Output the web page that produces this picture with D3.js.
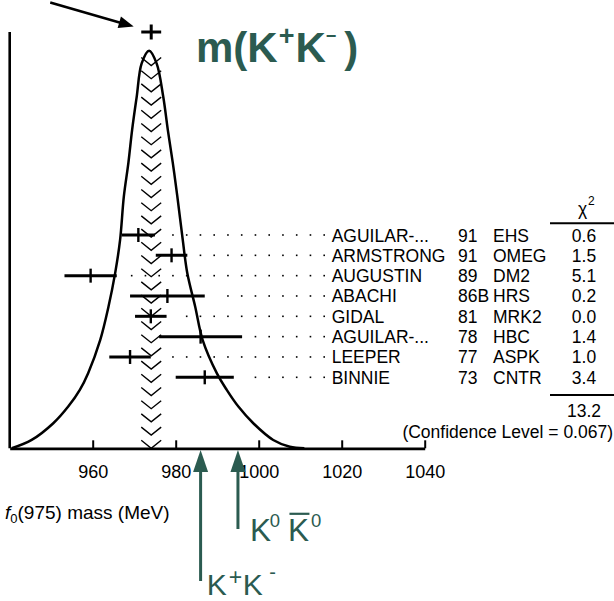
<!DOCTYPE html>
<html>
<head>
<meta charset="utf-8">
<script src="https://cdn.jsdelivr.net/npm/d3@7"></script>
<style>
  html, body { margin: 0; padding: 0; background: #fff; }
  svg { display: block; }
</style>
</head>
<body>
<svg id="chart" width="614" height="601"></svg>
<script>
// f0(975) mass measurements (MeV)
const names = ["AGUILAR-...", "ARMSTRONG", "AUGUSTIN", "ABACHI", "GIDAL", "AGUILAR-...", "LEEPER", "BINNIE"];
const years = ["91", "91", "89", "86B", "81", "78", "77", "73"];
const experiments = ["EHS", "OMEG", "DM2", "HRS", "MRK2", "HBC", "ASPK", "CNTR"];
const massValues = [971, 979, 959.5, 978, 974, 986, 969, 987];
const massErrors = [4, 3.8, 6.3, 9, 3.8, 10, 5, 7];
const chi2Values = ["0.6", "1.5", "5.1", "0.2", "0.0", "1.4", "1.0", "3.4"];
const chi2Total = "13.2";
const confidenceLevel = "0.067";

// weighted average and its error
const averageMass = 974.1;
const averageError = 2.4;

// ideogram curve (relative density vs mass)
const ideogramMass = [940.5, 945.3, 950.5, 954.1, 956.9, 958.9, 961.8, 963.8, 965.4, 966.6, 967.5, 968.6,
  969.5, 970.6, 971.8, 973.6, 975.4, 977.0, 978.1, 979.3, 980.4, 981.7, 982.8, 984.7, 986.5, 989.9,
  992.3, 995.1, 998.7, 1003.5, 1007.5, 1011];
const ideogramDensity = [0.0, 0.021, 0.063, 0.105, 0.147, 0.189, 0.272, 0.356, 0.440, 0.524, 0.633, 0.718,
  0.801, 0.884, 0.968, 1.0, 0.968, 0.884, 0.801, 0.718, 0.633, 0.524, 0.440, 0.356, 0.272, 0.189,
  0.147, 0.105, 0.063, 0.021, 0.004, 0.0];

const xTicks = [960, 980, 1000, 1020, 1040];

// kaon-pair thresholds (MeV): K+K-, K0 K0bar
const thresholdMass = [986, 995];

const FONT = "'Liberation Sans', Arial, Helvetica, sans-serif";
const INK = "#000";
const TEAL = "#2b5b50";

const svg = d3.select("#chart");

const x = d3.scaleLinear().domain([940, 1040]).range([9.7, 424.7]);
const y = d3.scaleLinear().domain([0, 1.047]).range([448.3, 32]);
const row = d3.scaleLinear().domain([0, names.length - 1]).range([235, 377.3]);

// ---- hatched band for the average ----
const bandL = x(averageMass - averageError);
const bandR = x(averageMass + averageError);
const bandC = x(averageMass);
const chevronTips = d3.range(0, 40).map(k => y(0) - 13.2 * k).filter(t => t - 8 > 55);
svg.append("g").selectAll("path").data(chevronTips).join("path")
  .attr("d", t => `M${bandL},${t - 8}L${bandC},${t}L${bandR},${t - 8}`)
  .attr("fill", "none").attr("stroke", INK).attr("stroke-width", 1.4);

// ---- dotted leaders from each measurement to its label ----
const dotOrigin = 131.7, dotStep = 13.75, dotEnd = 327;
const dots = [];
massValues.forEach((m, i) => {
  const end = x(m + massErrors[i]) + 12;
  const k = Math.ceil((end - dotOrigin) / dotStep);
  for (let px = dotOrigin + k * dotStep; px <= dotEnd; px += dotStep) dots.push([px, row(i)]);
});
svg.append("g").selectAll("rect").data(dots).join("rect")
  .attr("x", d => d[0] - 0.8).attr("y", d => d[1] - 0.8)
  .attr("width", 1.6).attr("height", 1.6).attr("fill", INK);

// ---- ideogram curve ----
const curvePts = ideogramMass.map((m, i) => [m, ideogramDensity[i]]);
svg.append("path")
  .attr("d", d3.line().x(d => x(d[0])).y(d => y(d[1])).curve(d3.curveCatmullRom.alpha(0.5))(curvePts))
  .attr("fill", "none").attr("stroke", INK).attr("stroke-width", 2.5);

// ---- measurement error bars ----
const bars = svg.append("g");
massValues.forEach((m, i) => {
  bars.append("line")
    .attr("x1", x(m - massErrors[i])).attr("x2", x(m + massErrors[i]))
    .attr("y1", row(i)).attr("y2", row(i))
    .attr("stroke", INK).attr("stroke-width", 3);
  bars.append("line")
    .attr("x1", x(m)).attr("x2", x(m))
    .attr("y1", row(i) - 7).attr("y2", row(i) + 7)
    .attr("stroke", INK).attr("stroke-width", 2.4);
});

// ---- average marker at the top ----
const yTop = y(1.047);
svg.append("line").attr("x1", bandL).attr("x2", bandR).attr("y1", yTop).attr("y2", yTop)
  .attr("stroke", INK).attr("stroke-width", 3);
svg.append("line").attr("x1", bandC).attr("x2", bandC).attr("y1", yTop - 7.5).attr("y2", yTop + 7.5)
  .attr("stroke", INK).attr("stroke-width", 3);

// pointer arrow to the average
{
  const tip = [bandC - 17.5, yTop - 5.5];
  const tail = [bandC - 101, yTop - 29.5];
  const dx = tip[0] - tail[0], dy = tip[1] - tail[1];
  const len = Math.hypot(dx, dy), ux = dx / len, uy = dy / len;
  const hl = 15, hw = 6;
  const bx = tip[0] - ux * hl, by = tip[1] - uy * hl;
  svg.append("line").attr("x1", tail[0]).attr("y1", tail[1]).attr("x2", bx + ux * 2).attr("y2", by + uy * 2)
    .attr("stroke", INK).attr("stroke-width", 2.6);
  svg.append("path")
    .attr("d", `M${tip[0]},${tip[1]}L${bx - uy * hw},${by + ux * hw}L${bx + uy * hw},${by - ux * hw}Z`)
    .attr("fill", INK);
}

// ---- axes ----
svg.append("line").attr("x1", x(940)).attr("x2", x(940)).attr("y1", yTop).attr("y2", y(0))
  .attr("stroke", INK).attr("stroke-width", 2.6);

const gAxis = svg.append("g")
  .attr("transform", `translate(0,${y(0)})`)
  .call(d3.axisBottom(x).tickValues(xTicks).tickSize(-8).tickSizeOuter(0).tickPadding(17).tickFormat(d3.format("d")))
  .attr("font-family", FONT).attr("font-size", 18);
gAxis.select(".domain").attr("stroke", INK).attr("stroke-width", 2.8);
gAxis.selectAll(".tick line").attr("stroke", INK).attr("stroke-width", 2);
gAxis.selectAll(".tick text").attr("fill", INK);

// axis title: f0(975) mass (MeV)
{
  const t = svg.append("text").attr("x", 5).attr("y", 518.5)
    .attr("font-family", FONT).attr("font-size", 19).attr("fill", INK);
  t.append("tspan").attr("font-style", "italic").text("f");
  t.append("tspan").attr("font-size", 13).attr("dy", 4).text("0");
  t.append("tspan").attr("dy", -4).text("(975) mass (MeV)");
}

// ---- table of measurements ----
const table = svg.append("g").attr("font-family", FONT).attr("font-size", 17.5).attr("fill", INK);
names.forEach((n, i) => {
  const by = row(i) + 6.5;
  table.append("text").attr("x", 331.7).attr("y", by).text(n);
  table.append("text").attr("x", 458).attr("y", by).text(years[i]);
  table.append("text").attr("x", 493).attr("y", by).text(experiments[i]);
  table.append("text").attr("x", 584).attr("y", by).attr("text-anchor", "middle").text(chi2Values[i]);
});

// chi-squared header
table.append("text").attr("x", 582.5).attr("y", 214.5).attr("text-anchor", "middle").text("χ");
table.append("text").attr("x", 588).attr("y", 205).attr("font-size", 12).text("2");
svg.append("line").attr("x1", 550).attr("x2", 614).attr("y1", 223.3).attr("y2", 223.3)
  .attr("stroke", INK).attr("stroke-width", 2);
svg.append("line").attr("x1", 550).attr("x2", 614).attr("y1", 395).attr("y2", 395)
  .attr("stroke", INK).attr("stroke-width", 2);
table.append("text").attr("x", 584).attr("y", 416.5).attr("text-anchor", "middle").text(chi2Total);
table.append("text").attr("x", 613).attr("y", 437.5).attr("text-anchor", "end")
  .text(`(Confidence Level = ${confidenceLevel})`);

// ---- m(K+K-) title ----
{
  const t = svg.append("text").attr("x", 196).attr("y", 62)
    .attr("font-family", FONT).attr("font-weight", "bold").attr("font-size", 42).attr("fill", TEAL);
  t.append("tspan").text("m(K");
  t.append("tspan").attr("font-size", 27).attr("dy", -17).attr("dx", 1).text("+");
  t.append("tspan").attr("dy", 17).attr("dx", 1).text("K");
  t.append("tspan").attr("font-size", 18).attr("dy", -20.5).text("\u2212");
  t.append("tspan").attr("dy", 20.5).attr("dx", 8).text(")");
}

// ---- threshold arrows ----
const arrowBottoms = [581, 529];
thresholdMass.forEach((m, i) => {
  const ax = x(m);
  svg.append("line").attr("x1", ax).attr("x2", ax).attr("y1", 468).attr("y2", arrowBottoms[i])
    .attr("stroke", TEAL).attr("stroke-width", 3);
  svg.append("path").attr("d", `M${ax},450L${ax - 7.5},472L${ax + 7.5},472Z`).attr("fill", TEAL);
});

// K+K- label
{
  const x0 = x(thresholdMass[0]) + 6.2;
  const g = svg.append("g").attr("font-family", FONT).attr("fill", TEAL);
  g.append("text").attr("x", x0).attr("y", 594.5).attr("font-size", 30).text("K");
  g.append("text").attr("x", x0 + 22).attr("y", 584.5).attr("font-size", 23).text("+");
  g.append("text").attr("x", x0 + 36).attr("y", 594.5).attr("font-size", 30).text("K");
  g.append("text").attr("x", x0 + 62.5).attr("y", 578.5).attr("font-size", 20).text("-");
}

// K0 K0bar label
{
  const x0 = x(thresholdMass[1]) + 12;
  const g = svg.append("g").attr("font-family", FONT).attr("fill", TEAL);
  g.append("text").attr("x", x0).attr("y", 541).attr("font-size", 31.5).text("K");
  g.append("text").attr("x", x0 + 19.9).attr("y", 526.7).attr("font-size", 18.5).text("0");
  g.append("text").attr("x", x0 + 38).attr("y", 541).attr("font-size", 31.5).text("K");
  g.append("line").attr("x1", x0 + 39.5).attr("x2", x0 + 59.5).attr("y1", 513.8).attr("y2", 513.8)
    .attr("stroke", TEAL).attr("stroke-width", 2.2);
  g.append("text").attr("x", x0 + 61).attr("y", 526.7).attr("font-size", 18.5).text("0");
}
</script>
</body>
</html>
